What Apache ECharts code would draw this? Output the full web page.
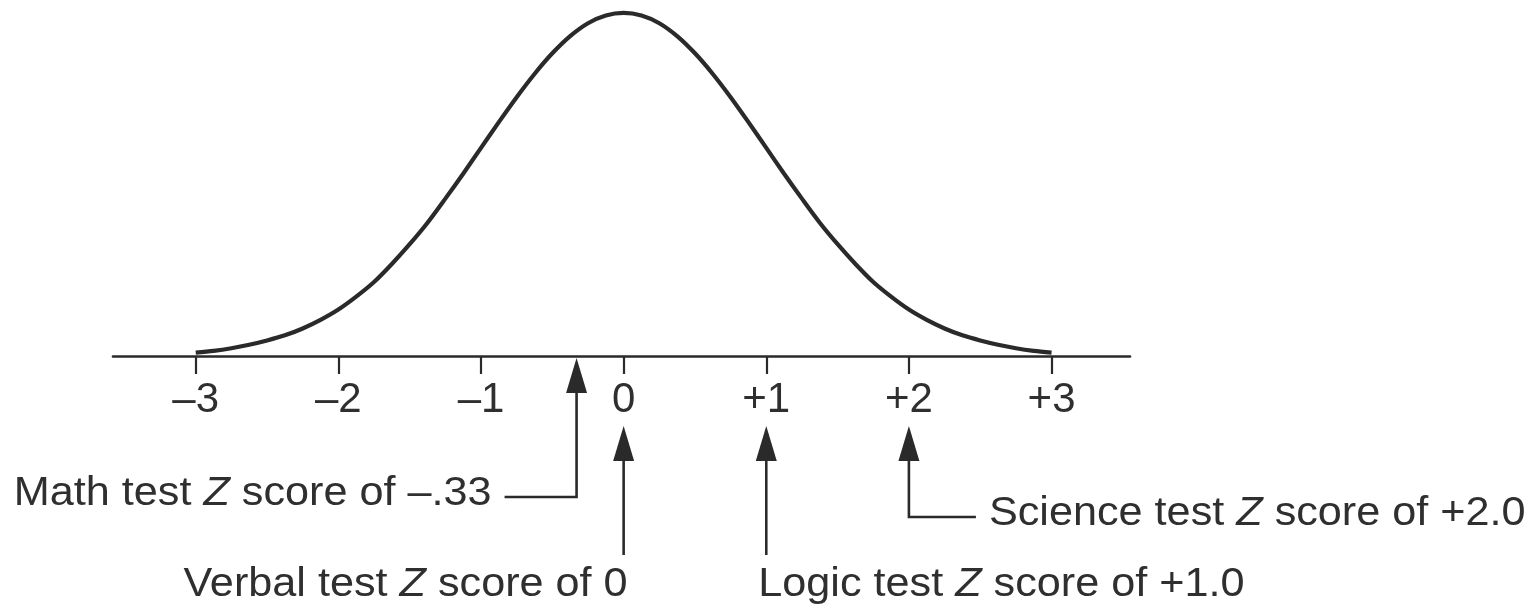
<!DOCTYPE html>
<html>
<head>
<meta charset="utf-8">
<title>Z scores on the normal curve</title>
<script src="https://cdn.jsdelivr.net/npm/echarts@6/dist/echarts.min.js"></script>
<style>
  html, body { margin: 0; padding: 0; background: #ffffff; }
  #chart { width: 1539px; height: 615px; }
</style>
</head>
<body>
<div id="chart"></div>
<script>
// Baseline ticks and their printed labels
const tickValues = [-3, -2, -1, 0, 1, 2, 3];
const tickLabels = ['\u20133', '\u20132', '\u20131', '0', '+1', '+2', '+3'];

// Height of the bell curve at each Z position (left half, then right half)
const curveZ = [-3, -2.875, -2.75, -2.625, -2.5, -2.375, -2.25, -2.125, -2, -1.875, -1.75, -1.625,
                -1.5, -1.375, -1.25, -1.125, -1, -0.875, -0.75, -0.625, -0.5, -0.375, -0.25, -0.125,
                0,
                0.125, 0.25, 0.375, 0.5, 0.625, 0.75, 0.875, 1, 1.125, 1.25, 1.375, 1.5,
                1.625, 1.75, 1.875, 2, 2.125, 2.25, 2.375, 2.5, 2.625, 2.75, 2.875, 3];
const curveHeight = [0.004, 0.006, 0.009, 0.013, 0.018, 0.024, 0.032, 0.042, 0.054, 0.069, 0.086, 0.107,
                     0.130, 0.155, 0.183, 0.212, 0.242, 0.272, 0.301, 0.328, 0.352, 0.372, 0.387, 0.396,
                     0.399,
                     0.396, 0.387, 0.372, 0.352, 0.328, 0.301, 0.272, 0.242, 0.212, 0.183, 0.155, 0.130,
                     0.107, 0.086, 0.069, 0.054, 0.042, 0.032, 0.024, 0.018, 0.013, 0.009, 0.006, 0.004];

// The four tests and their Z scores
const testNames = ['Math', 'Verbal', 'Logic', 'Science'];
const testZ = [-0.33, 0, 1.0, 2.0];
const testZText = ['\u2013.33', '0', '+1.0', '+2.0'];

// How each pointer is laid out (pixel offsets below the baseline)
const pointerLayout = [
  { tip: 2,  stemEnd: 141, elbow: -72, textAlign: 'right', textDx: -85, bottom: 158 },
  { tip: 70, stemEnd: 199, elbow: 0,   textAlign: 'right', textDx: 4,   bottom: 249 },
  { tip: 70, stemEnd: 199, elbow: 0,   textAlign: 'left',  textDx: -8,  bottom: 249 },
  { tip: 70, stemEnd: 161, elbow: 67,  textAlign: 'left',  textDx: 80,  bottom: 178 }
];

const INK = '#2a2a2a';
const TEXT_INK = '#2f2f2f';
const FONT = '"Liberation Sans", Arial, Helvetica, sans-serif';
const TEXT_SIZE = 40;
const STRETCH = 1.08;

const chart = echarts.init(document.getElementById('chart'), null, { renderer: 'canvas' });

const curveData = curveZ.map((z, i) => [z, curveHeight[i]]);
const pointerData = testZ.map((z, i) => [z, i]);

function renderPointer(params, api) {
  const i = api.value(1);
  const lay = pointerLayout[i];
  const base = api.coord([api.value(0), 0]);
  const x = base[0];
  const y0 = base[1];
  const tipY = y0 + lay.tip;
  const headLen = 35;
  const headHalf = 10.5;
  const stemBottom = y0 + lay.stemEnd;
  const children = [];

  // arrow head
  children.push({
    type: 'polygon',
    shape: { points: [[x, tipY], [x - headHalf, tipY + headLen], [x + headHalf, tipY + headLen]] },
    style: { fill: INK }
  });

  // stem, with an optional elbow to the side
  const pts = [[x, tipY + headLen - 2], [x, stemBottom]];
  if (lay.elbow !== 0) pts.push([x + lay.elbow, stemBottom]);
  children.push({
    type: 'polyline',
    shape: { points: pts },
    style: { stroke: INK, lineWidth: 2.6, fill: null, lineJoin: 'miter' }
  });

  // caption
  children.push({
    type: 'text',
    x: x + lay.textDx,
    y: y0 + lay.bottom,
    scaleX: STRETCH,
    originX: 0,
    originY: 0,
    style: {
      x: 0,
      y: 0,
      text: '{n|' + testNames[i] + ' test }{z|Z}{n| score of ' + testZText[i] + '}',
      align: lay.textAlign,
      verticalAlign: 'bottom',
      rich: {
        n: { fontSize: TEXT_SIZE, fontFamily: FONT, fill: TEXT_INK, lineHeight: TEXT_SIZE },
        z: { fontSize: TEXT_SIZE, fontFamily: FONT, fontStyle: 'italic', fill: TEXT_INK, lineHeight: TEXT_SIZE }
      }
    }
  });

  return { type: 'group', children: children };
}

const option = {
  backgroundColor: '#ffffff',
  animation: false,
  grid: { left: 113, right: 409, top: 0, bottom: 259, containLabel: false },
  xAxis: {
    type: 'value',
    min: -3.58,
    max: 3.55,
    splitLine: { show: false },
    axisLine: { show: true, onZero: false, lineStyle: { color: INK, width: 2.6 } },
    axisTick: { show: true, customValues: tickValues, length: 18, lineStyle: { color: INK, width: 2.2 } },
    axisLabel: {
      show: true,
      customValues: tickValues,
      margin: 23,
      fontSize: 42,
      fontFamily: FONT,
      color: TEXT_INK,
      formatter: function (v) {
        const k = tickValues.indexOf(Math.round(v));
        return k >= 0 ? tickLabels[k] : '';
      }
    }
  },
  yAxis: {
    type: 'value',
    min: 0,
    max: 0.414,
    show: false
  },
  series: [
    {
      type: 'line',
      data: curveData,
      smooth: 0.3,
      showSymbol: false,
      silent: true,
      lineStyle: { color: INK, width: 4.2 },
      z: 3
    },
    {
      type: 'custom',
      data: pointerData,
      renderItem: renderPointer,
      silent: true,
      clip: false,
      z: 4
    }
  ]
};

chart.setOption(option);
</script>
</body>
</html>
